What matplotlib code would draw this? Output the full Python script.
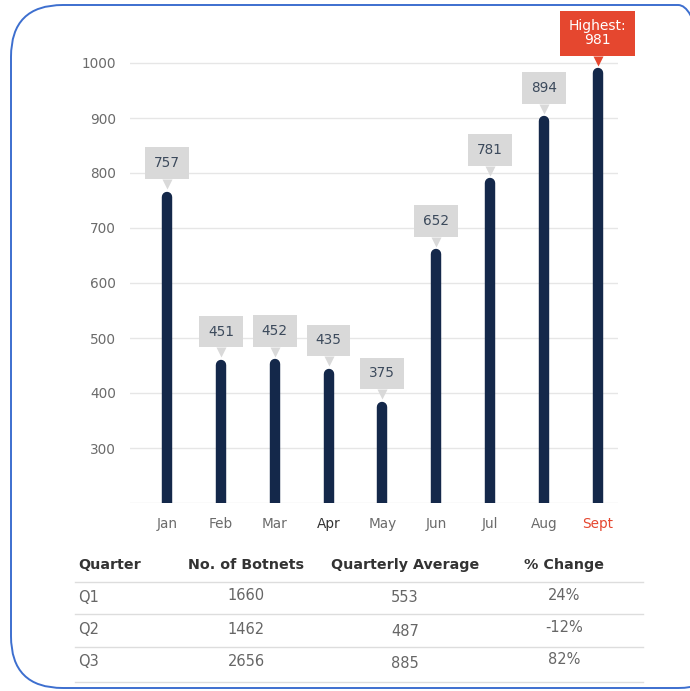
import matplotlib.pyplot as plt
from matplotlib.patches import FancyBboxPatch
from matplotlib.lines import Line2D
from matplotlib.transforms import offset_copy

months = ['Jan', 'Feb', 'Mar', 'Apr', 'May', 'Jun', 'Jul', 'Aug', 'Sept']
botnets = [757, 451, 452, 435, 375, 652, 781, 894, 981]
y_ticks = [200, 300, 400, 500, 600, 700, 800, 900, 1000]

table_header = ['Quarter', 'No. of Botnets', 'Quarterly Average', '% Change']
quarters = ['Q1', 'Q2', 'Q3']
quarter_totals = ['1660', '1462', '2656']
quarter_avgs = ['553', '487', '885']
quarter_change = ['24%', '-12%', '82%']

navy = '#14284a'
red = '#e5472f'
W, H = 690, 691

fig = plt.figure(figsize=(6.9, 6.91), dpi=100)
ax = fig.add_axes([130 / W, 1 - 503 / H, (618 - 130) / W, (503 - 8) / H])
ax.set_xlim(-0.69, 8.38)
ax.set_ylim(200, 1100)

# gridlines
for v in y_ticks:
    ax.axhline(v, color='#e6e6e6', lw=1, zorder=0)

# bars with rounded tops
for i, v in enumerate(botnets):
    ax.plot([i, i], [180, v], color=navy, lw=7.5, solid_capstyle='round', zorder=2)

# value callouts (box + small pointer)
tri_tf = offset_copy(ax.transData, fig=fig, x=0, y=9, units='points')
for i, v in enumerate(botnets):
    if i == len(botnets) - 1:
        ax.plot(i, v, marker='v', ms=7.5, color=red, mec='none', transform=tri_tf, clip_on=False, zorder=3)
        ax.annotate('Highest:\n' + str(v), xy=(i, v), xytext=(0, 29), textcoords='offset points',
                    ha='center', va='center', color='white', fontsize=10, linespacing=1.0,
                    bbox=dict(boxstyle='square,pad=0.62', fc=red, ec='none'),
                    annotation_clip=False, zorder=4)
    else:
        ax.plot(i, v, marker='v', ms=7.5, color='#d9d9d9', mec='none', transform=tri_tf, clip_on=False, zorder=3)
        ax.annotate(str(v), xy=(i, v), xytext=(0, 24), textcoords='offset points',
                    ha='center', va='center', color='#3c4a5c', fontsize=9.8,
                    bbox=dict(boxstyle='square,pad=0.65', fc='#d9d9d9', ec='none'),
                    annotation_clip=False, zorder=4)

ax.set_yticks(y_ticks)
ax.set_yticklabels([''] + [str(v) for v in y_ticks[1:]])
ax.set_xticks(range(len(months)))
ax.set_xticklabels(months)
ax.tick_params(length=0, labelsize=9.8, labelcolor='#6b6b6b')
ax.tick_params(axis='x', pad=10)
ax.tick_params(axis='y', pad=10)
xl = ax.get_xticklabels()
xl[3].set_color('#333333')
xl[-1].set_color(red)
for s in ax.spines.values():
    s.set_visible(False)

# table below chart
def fx(x):
    return x / W

def fy(y):
    return 1 - y / H

col_x = [78, 246, 405, 564]
fig.text(fx(col_x[0]), fy(565), table_header[0], ha='left', va='center', fontsize=10.3,
         fontweight='bold', color='#333333')
for cx, h in zip(col_x[1:], table_header[1:]):
    fig.text(fx(cx), fy(565), h, ha='center', va='center', fontsize=10.3,
             fontweight='bold', color='#333333')

row_y = [597, 630, 662]
for r, y in enumerate(row_y):
    fig.text(fx(col_x[0]), fy(y), quarters[r], ha='left', va='center', fontsize=10.5, color='#666666')
    fig.text(fx(col_x[1]), fy(y - 1), quarter_totals[r], ha='center', va='center', fontsize=10.5, color='#666666')
    fig.text(fx(col_x[2]), fy(y + 1), quarter_avgs[r], ha='center', va='center', fontsize=10.5, color='#666666')
    fig.text(fx(col_x[3]), fy(y - 2), quarter_change[r], ha='center', va='center', fontsize=10.5, color='#666666')

for y in [582, 614, 647, 682]:
    fig.add_artist(Line2D([fx(75), fx(643)], [fy(y), fy(y)], color='#dddddd', lw=1))

# rounded blue frame
frame = FancyBboxPatch((fx(11), fy(688)), fx(730) - fx(11), fy(5) - fy(688),
                       boxstyle='round,pad=0,rounding_size=0.075', transform=fig.transFigure,
                       fc='none', ec='#3d6fcf', lw=1.4)
fig.add_artist(frame)

fig.savefig('out.png', dpi=100)
